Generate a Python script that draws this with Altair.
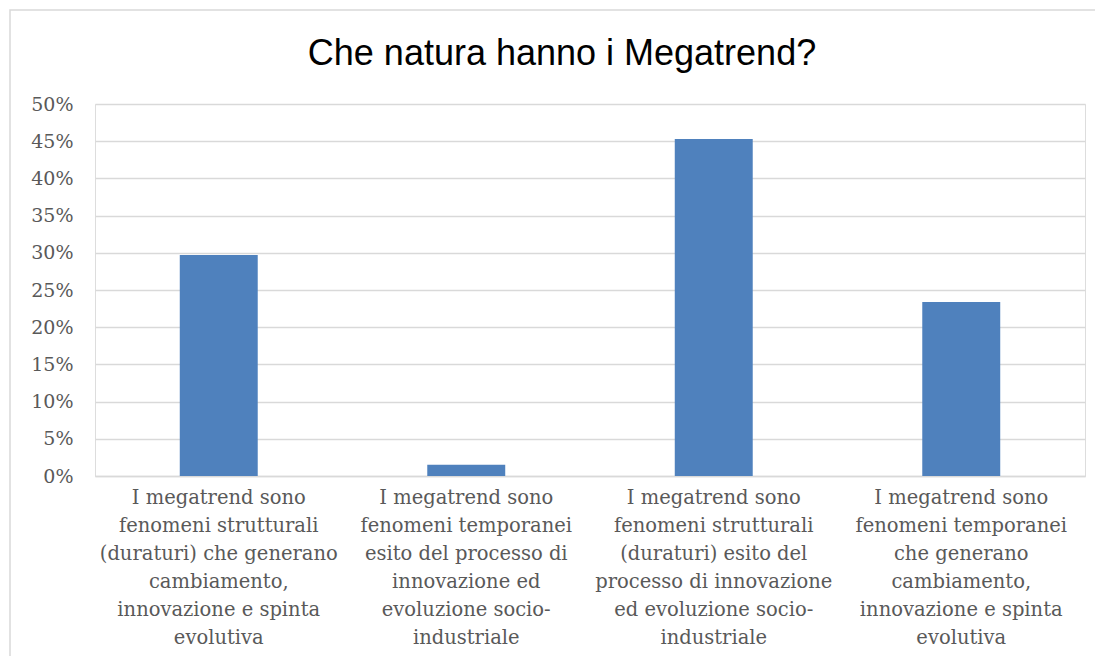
import altair as alt
import pandas as pd

categories = [
    "I megatrend sono\nfenomeni strutturali\n(duraturi) che generano\ncambiamento,\ninnovazione e spinta\nevolutiva",
    "I megatrend sono\nfenomeni temporanei\nesito del processo di\ninnovazione ed\nevoluzione socio-\nindustriale",
    "I megatrend sono\nfenomeni strutturali\n(duraturi) esito del\nprocesso di innovazione\ned evoluzione socio-\nindustriale",
    "I megatrend sono\nfenomeni temporanei\nche generano\ncambiamento,\ninnovazione e spinta\nevolutiva",
]
values = [0.297, 0.015, 0.453, 0.234]
y_ticks = [0, 0.05, 0.10, 0.15, 0.20, 0.25, 0.30, 0.35, 0.40, 0.45, 0.50]

df = pd.DataFrame({"cat": categories, "val": values})

label_font = "DejaVu Serif"
grey = "#595959"
grid = "#d9d9d9"

bars = alt.Chart(df).mark_bar(color="#4F81BD").encode(
    x=alt.X(
        "cat:N",
        sort=None,
        scale=alt.Scale(paddingInner=0.685, paddingOuter=0.3425),
        axis=alt.Axis(
            title=None,
            labelAngle=0,
            labelExpr="split(datum.label, '\\n')",
            labelFont=label_font,
            labelFontSize=19.5,
            labelColor=grey,
            labelLineHeight=28,
            labelPadding=12,
            labelLimit=400,
            ticks=False,
            domainColor=grid,
            domainWidth=1.5,
            labelBaseline="top",
        ),
    ),
    y=alt.Y(
        "val:Q",
        scale=alt.Scale(domain=[0, 0.5], nice=False),
        axis=alt.Axis(
            title=None,
            values=y_ticks,
            format=".0%",
            labelFont=label_font,
            labelFontSize=19,
            labelColor=grey,
            labelPadding=22,
            ticks=False,
            domain=False,
            gridColor=grid,
            gridWidth=1.5,
        ),
    ),
)

frame_df = pd.DataFrame({"k": [0]})
frame = alt.Chart(frame_df).mark_rect(
    fill=None, stroke=grid, strokeWidth=1.5
).encode(
    x=alt.value(-85), x2=alt.value(1015), y=alt.value(-94), y2=alt.value(570)
)

chart = alt.layer(frame, bars).properties(
    width=990,
    height=372,
    title=alt.Title(
        "Che natura hanno i Megatrend?",
        font="Liberation Sans",
        fontSize=36,
        fontWeight="normal",
        color="#000000",
        anchor="middle",
        dx=-28,
        offset=-64,
    ),
    padding={"left": 87, "top": 96, "right": 10, "bottom": 180},
    autosize=alt.AutoSizeParams(type="none"),
).configure_view(stroke=None).configure(background="white")

chart.save("out.html", embed_options={"renderer": "svg", "actions": False})
